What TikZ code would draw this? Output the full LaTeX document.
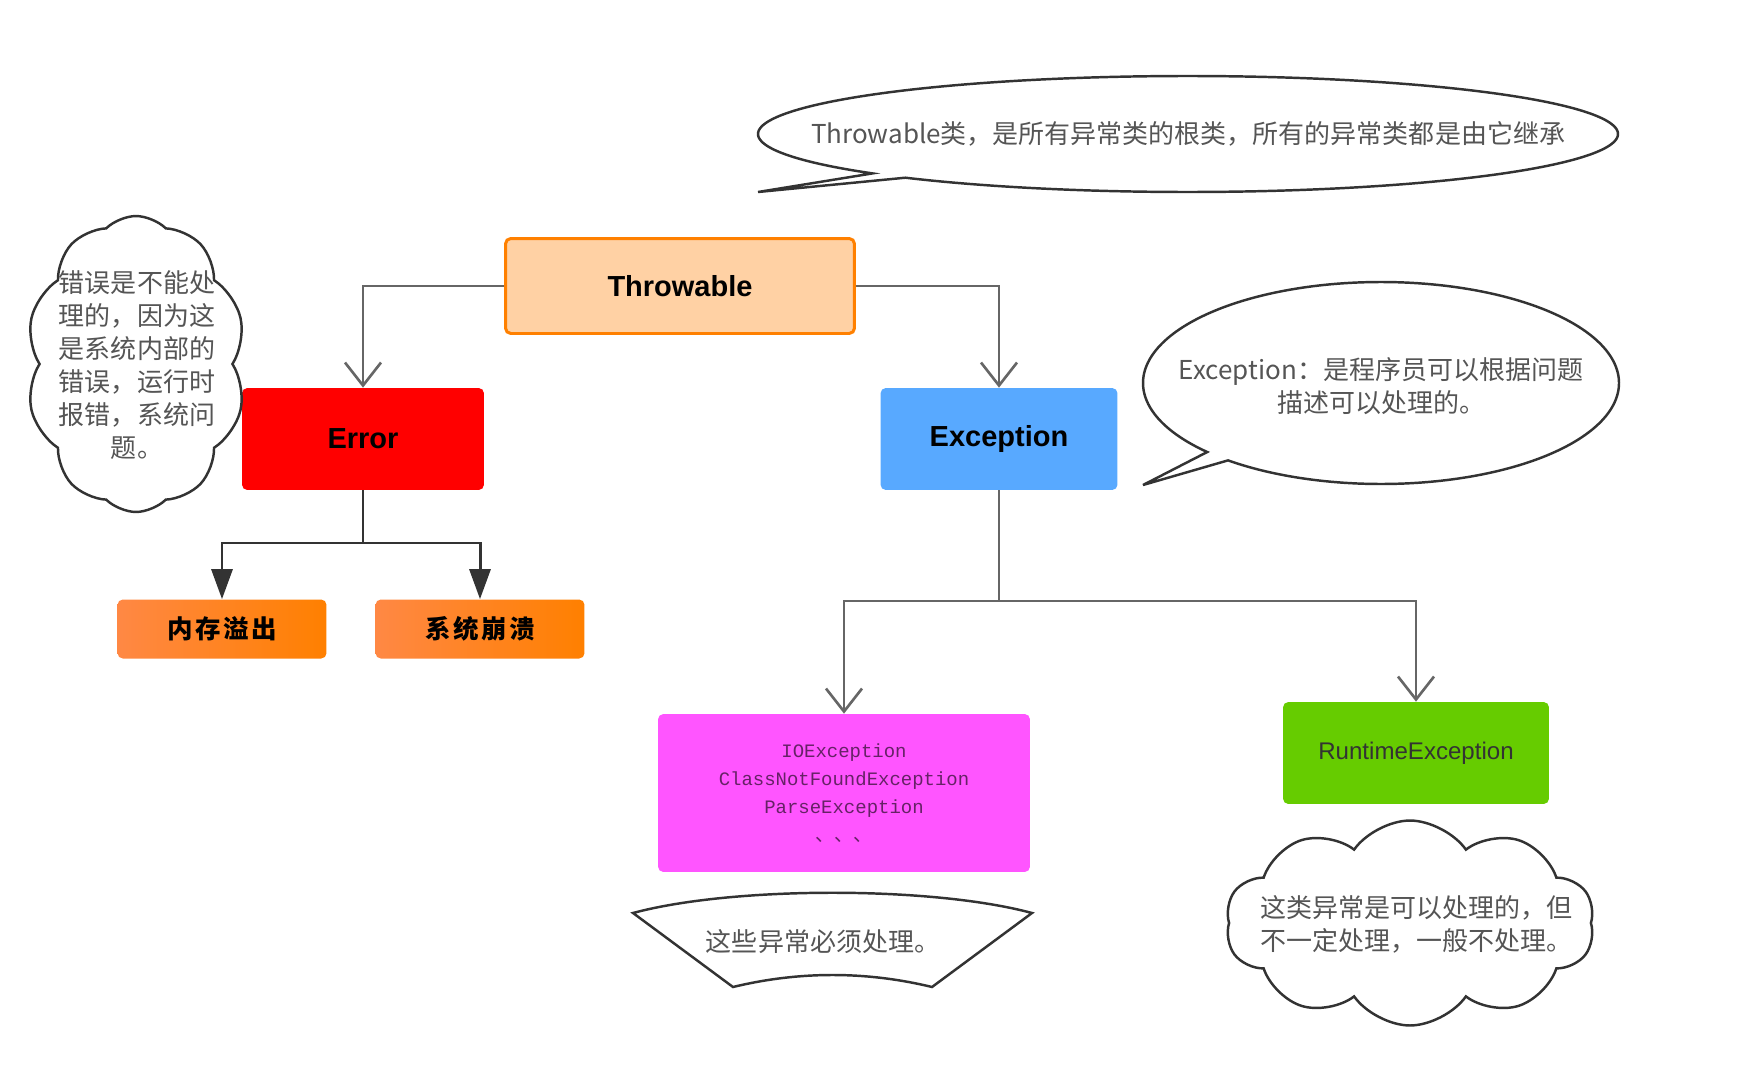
\documentclass[tikz,border=0pt]{standalone}
\usepackage{fontspec}
\setmainfont{Liberation Sans}
\newfontfamily\cjk{Noto Sans CJK SC}
\newfontfamily\codefont{Liberation Mono}
\usetikzlibrary{arrows.meta,shapes.symbols}

\definecolor{throwfill}{HTML}{FFD1A4}
\definecolor{throwline}{HTML}{FF8000}
\definecolor{errred}{HTML}{FF0000}
\definecolor{excblue}{HTML}{58A9FF}
\definecolor{leafl}{HTML}{FF8844}
\definecolor{leafr}{HTML}{FF8000}
\definecolor{checkedpink}{HTML}{FF55FF}
\definecolor{rtgreen}{HTML}{66CC00}
\definecolor{linkgray}{HTML}{666666}
\definecolor{linkdark}{HTML}{333333}
\definecolor{notegray}{HTML}{555555}
\definecolor{codepurple}{HTML}{662266}

\tikzset{
  classbox/.style={rounded corners=3pt, inner sep=0pt, align=center},
  boldlabel/.style={font=\fontsize{16.5}{20}\selectfont\bfseries},
  leafbox/.style={classbox, left color=leafl, right color=leafr,
    minimum width=4.18cm, minimum height=1.18cm,
    font=\cjk\fontsize{14.5}{18}\selectfont\bfseries\addfontfeature{LetterSpace=10}},
  notetext/.style={text=notegray, font=\cjk\fontsize{14.8}{18.8}\selectfont,
    align=center, inner sep=0pt},
  noteline/.style={draw=linkdark, line width=1.4pt, fill=white},
  cloudnote/.style={cloud, cloud ignores aspect, noteline, inner sep=0pt},
  openlink/.style={draw=linkgray, line width=1.5pt,
    -{Straight Barb[length=0.46cm,width=0.72cm]}},
  solidlink/.style={draw=linkdark, line width=1.7pt,
    -{Triangle[length=0.6cm,width=0.42cm]}},
}

\begin{document}
\begin{tikzpicture}[x=0.02cm, y=-0.02cm]
  \useasboundingbox (0,0) rectangle (1764,1068);

  % class boxes
  \node[classbox, boldlabel, draw=throwline, line width=1.7pt, fill=throwfill,
    minimum width=6.98cm, minimum height=1.9cm] (throwable) at (680,286) {Throwable};
  \node[classbox, boldlabel, fill=errred,
    minimum width=4.84cm, minimum height=2.04cm] (error) at (363,439) {Error};
  \node[classbox, boldlabel, fill=excblue,
    minimum width=4.74cm, minimum height=2.04cm] (exception) at (999,439) {Exception};
  \node[leafbox] (oom) at (222,629) {内存溢出};
  \node[leafbox] (crash) at (480,629) {系统崩溃};
  \node[classbox, fill=checkedpink, text=codepurple,
    minimum width=7.44cm, minimum height=3.16cm,
    font=\codefont\fontsize{10.8}{16}\selectfont] (checked) at (844,793)
    {IOException\\ClassNotFoundException\\ParseException\\{\cjk 、、、}};
  \node[classbox, fill=rtgreen, text=linkdark,
    minimum width=5.32cm, minimum height=2.04cm,
    font=\fontsize{13.7}{16}\selectfont] (runtime) at (1416,753) {RuntimeException};

  % connectors
  \coordinate (errjoin) at (363,543);
  \coordinate (excjoin) at (999,601);
  \draw[openlink] (throwable.west) -| (error.north);
  \draw[openlink] (throwable.east) -| (exception.north);
  \draw[solidlink] (error.south) -- (errjoin) -| (oom.north);
  \draw[solidlink] (error.south) -- (errjoin) -| (crash.north);
  \draw[openlink] (exception.south) -- (excjoin) -| (checked.north);
  \draw[openlink] (exception.south) -- (excjoin) -| (runtime.north);

  % notes
  \draw[noteline] plot[domain=-222.8:131.1, samples=240]
    ({1188+430*cos(\x)}, {134+58*sin(\x)}) -- (758,192) -- cycle;
  \node[notetext] (rootnote) at (1188,134)
    {Throwable类，是所有异常类的根类，所有的异常类都是由它继承};

  \draw[noteline] plot[domain=-223.1:130, samples=240]
    ({1381+238*cos(\x)}, {383+101*sin(\x)}) -- (1143,485) -- cycle;
  \node[notetext] (excnote) at (1381,386)
    {Exception：是程序员可以根据问题\\描述可以处理的。};

  \node[cloudnote, cloud puffs=10, cloud puff arc=90,
    minimum width=4.4cm, minimum height=5.92cm] (errcloud) at (136,364) {};
  \node[notetext] (errnote) at (137,365)
    {错误是不能处\\理的，因为这\\是系统内部的\\错误，运行时\\报错，系统问\\题。};

  \node[cloudnote, cloud puffs=10, cloud puff arc=110,
    minimum width=7.38cm, minimum height=4.1cm] (rtcloud) at (1410,923) {};
  \node[notetext] (rtnote) at (1416,924)
    {这类异常是可以处理的，但\\不一定处理，一般不处理。};

  \draw[noteline] (633,913) .. controls (733,886) and (932,886) .. (1032,913)
    -- (932,987) .. controls (866,971) and (799,971) .. (733,987) -- cycle;
  \node[notetext] (checkednote) at (823,942) {这些异常必须处理。};
\end{tikzpicture}
\end{document}
